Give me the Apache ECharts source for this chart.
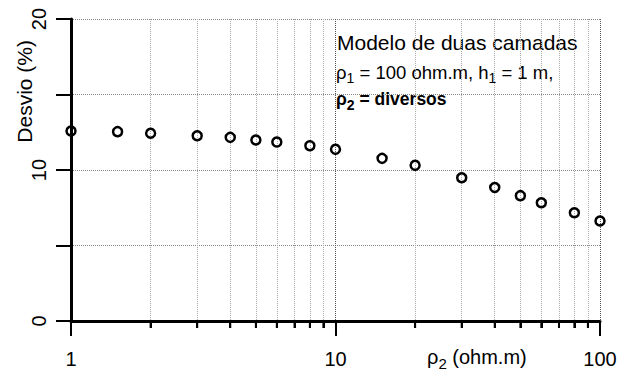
<!DOCTYPE html>
<html>
<head>
<meta charset="utf-8">
<script src="https://cdn.jsdelivr.net/npm/echarts@6/dist/echarts.min.js"></script>
<style>
  html, body { margin: 0; padding: 0; background: #fff; }
  #chart { width: 632px; height: 374px; }
</style>
</head>
<body>
<div id="chart"></div>
<script>
// resistividade da segunda camada (ohm.m) e desvio (%)
const rho2 = [1, 1.5, 2, 3, 4, 5, 6, 8, 10, 15, 20, 30, 40, 50, 60, 80, 100];
const desvio = [12.58, 12.54, 12.43, 12.27, 12.16, 11.99, 11.85, 11.61, 11.37, 10.77, 10.31, 9.49, 8.84, 8.30, 7.83, 7.17, 6.62];
// traços menores do eixo log (2..9 em cada década)
const minorTicks = [2, 3, 4, 5, 6, 7, 8, 9, 20, 30, 40, 50, 60, 70, 80, 90];

const FONT = 'Liberation Sans';
const chart = echarts.init(document.getElementById('chart'), null, { renderer: 'svg' });

chart.setOption({
  animation: false,
  grid: [
    { left: 71, right: 32, top: 19, bottom: 53 },
    // faixa de 7px logo abaixo do eixo, para os traços menores
    { left: 71, right: 32, top: 321, height: 7 },
  ],
  xAxis: [{
    type: 'log', logBase: 10, min: 1, max: 100, position: 'bottom',
    axisLine: { onZero: false, lineStyle: { color: '#000', width: 3 } },
    axisTick: { length: 15, lineStyle: { color: '#000', width: 2 } },
    axisLabel: { color: '#000', fontSize: 20, fontFamily: FONT, margin: 28 },
    splitLine: { show: true, lineStyle: { type: 'dotted', color: '#555', width: 1 } },
    minorTick: { show: true, splitNumber: 9, length: 7, lineStyle: { color: '#000', width: 2 } },
    minorSplitLine: { show: true, lineStyle: { type: 'dotted', color: '#aaa', width: 1 } },
  }, {
    gridIndex: 1, type: 'log', logBase: 10, min: 1, max: 100, show: false,
  }],
  yAxis: [{
    type: 'value', min: 0, max: 20, interval: 5,
    axisLine: { show: true, onZero: false, lineStyle: { color: '#000', width: 3 } },
    axisTick: { show: true, length: 15, lineStyle: { color: '#000', width: 2 } },
    axisLabel: {
      color: '#000', fontSize: 20, fontFamily: FONT, rotate: 90, margin: 22,
      formatter: v => (v % 10 === 0 ? String(v) : ''),
    },
    splitLine: { show: true, lineStyle: { type: 'dotted', color: '#888', width: 1 } },
  }, {
    gridIndex: 1, type: 'value', min: 0, max: 1, show: false,
  }],
  series: [{
    type: 'scatter',
    data: rho2.map((x, i) => [x, desvio[i]]),
    symbol: 'circle',
    symbolSize: 9,
    itemStyle: { color: 'rgba(0,0,0,0)', borderColor: '#000', borderWidth: 2.5, opacity: 1 },
    z: 5,
  }, {
    type: 'bar',
    xAxisIndex: 1, yAxisIndex: 1,
    data: minorTicks.map(x => [x, 1]),
    barWidth: 2,
    itemStyle: { color: '#000' },
    silent: true,
  }],
  graphic: [
    {
      type: 'text', left: 14, top: 40, rotation: Math.PI / 2,
      style: { text: 'Desvio (%)', font: '21px ' + FONT, fill: '#000' },
    },
    {
      type: 'text', left: 427, top: 347,
      style: {
        text: '{a|ρ}{s|2}{a| (ohm.m)}', fill: '#000',
        rich: {
          a: { fontSize: 20, fontFamily: FONT, lineHeight: 24, verticalAlign: 'top' },
          s: { fontSize: 15, fontFamily: FONT, lineHeight: 4, verticalAlign: 'bottom' },
        },
      },
    },
    {
      type: 'text', left: 337, top: 32,
      style: { text: 'Modelo de duas camadas', font: '21px ' + FONT, fill: '#000' },
    },
    {
      type: 'text', left: 336, top: 63,
      style: {
        text: '{a|ρ}{s|1}{a| = 100 ohm.m, h}{s|1}{a| = 1 m,}', fill: '#000',
        rich: {
          a: { fontSize: 18.5, fontFamily: FONT, lineHeight: 22, verticalAlign: 'top' },
          s: { fontSize: 14, fontFamily: FONT, lineHeight: 4, verticalAlign: 'bottom' },
        },
      },
    },
    {
      type: 'text', left: 336, top: 90,
      style: {
        text: '{a|ρ}{s|2}{a| = diversos}', fill: '#000',
        rich: {
          a: { fontSize: 17.5, fontFamily: FONT, fontWeight: 'bold', lineHeight: 22, verticalAlign: 'top' },
          s: { fontSize: 14, fontFamily: FONT, fontWeight: 'bold', lineHeight: 4, verticalAlign: 'bottom' },
        },
      },
    },
  ],
});
</script>
</body>
</html>
